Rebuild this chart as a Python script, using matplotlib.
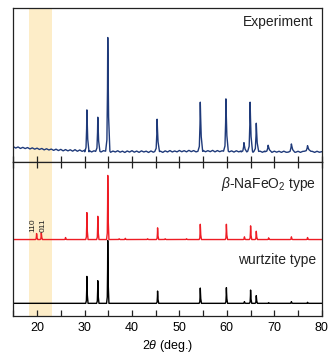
import numpy as np
import matplotlib
matplotlib.use("Agg")
import matplotlib.pyplot as plt
from matplotlib.ticker import MultipleLocator

plt.rcParams['font.family'] = ['Liberation Sans', 'DejaVu Sans']
plt.rcParams['mathtext.fontset'] = 'custom'
plt.rcParams['mathtext.rm'] = 'Liberation Sans'
plt.rcParams['mathtext.it'] = 'Liberation Sans:italic'

# ---- data ----
# experiment: background every 0.5 deg from 15 to 80
exp_bg_x = np.arange(15.0, 80.01, 0.5)
exp_bg_y = [15.8, 14.4, 15.5, 14.0, 15.1, 13.9, 14.9, 13.5, 14.6, 13.3,
            14.3, 13.0, 14.0, 12.6, 13.7, 12.5, 13.4, 12.1, 13.3, 11.9,
            13.1, 11.6, 12.9, 11.6, 12.7, 11.3, 12.8, 11.2, 12.5, 11.1,
            12.2, 10.7, 11.9, 10.5, 11.7, 10.3, 11.6, 10.5, 11.8, 10.4,
            11.5, 10.2, 11.4, 10.5, 11.7, 10.3, 11.3, 10.0, 11.5, 10.4,
            11.8, 10.3, 11.4, 10.1, 11.6, 10.5, 11.3, 10.0, 11.5, 10.3,
            11.7, 10.4, 11.3, 10.1, 11.6, 10.5, 11.9, 10.5, 11.5, 10.6,
            12.0, 10.7, 11.8, 10.6, 12.1, 10.8, 11.9, 10.6, 12.2, 10.9,
            12.0, 10.7, 11.8, 10.8, 12.1, 10.6, 11.9, 10.8, 11.7, 10.5,
            11.8, 10.6, 11.6, 10.4, 11.7, 10.6, 11.5, 10.3, 11.6, 10.5,
            11.4, 10.2, 11.5, 10.4, 11.3, 10.2, 11.4, 10.3, 11.3, 10.1,
            11.3, 10.3, 11.2, 10.1, 11.3, 10.2, 11.2, 10.1, 11.1, 10.2,
            11.2, 10.1, 11.1, 10.0, 11.2, 10.2, 11.1, 10.1, 11.2, 10.2,
            10.8]
exp_pos = [30.5, 32.8, 34.9, 45.3, 54.4, 59.8, 63.6, 64.9, 66.2, 68.7, 73.6, 77.0]
exp_top = [52.5, 45.2, 124.8, 43.2, 60.2, 63.5, 19.8, 60.2, 39.2, 17.2, 18.5, 16.8]

# beta-NaFeO2 type (calculated), heights above baseline
calc_pos = [19.9, 20.9, 26.0, 30.5, 32.8, 34.9, 37.3, 38.6, 43.3, 45.4, 47.0,
            51.5, 54.4, 59.9, 63.7, 65.0, 66.2, 68.8, 73.6, 77.0]
beta_h = [6.0, 6.7, 2.0, 27.0, 23.3, 64.3, 0.8, 1.2, 0.8, 11.7, 0.8,
          0.8, 15.3, 15.3, 2.7, 13.7, 8.3, 1.7, 2.7, 2.0]
beta_base = 76.7

# wurtzite type (calculated)
wurtz_pos = [30.5, 32.8, 34.9, 45.4, 54.4, 59.9, 63.7, 65.0, 66.2, 68.8, 73.6, 77.0]
wurtz_h = [27.0, 22.7, 63.0, 12.3, 15.3, 15.7, 1.7, 13.3, 7.7, 0.7, 1.7, 1.0]
wurtz_base = 12.7

hkl_labels = ['110', '011']
hkl_pos = [19.2, 21.2]

# ---- styling ----
exp_w = [0.45, 0.45, 0.45, 0.5, 0.5, 0.5, 0.6, 0.5, 0.5, 0.7, 0.7, 0.7]
calc_w = 0.25


def profile(bx, by, pos, tops, widths):
    bx = np.asarray(bx, float)
    by = np.asarray(by, float)
    keep = np.ones(len(bx), bool)
    for p, w in zip(pos, widths):
        keep &= np.abs(bx - p) > w
    xs = list(bx[keep])
    ys = list(by[keep])
    for p, t, w in zip(pos, tops, widths):
        b = np.interp(p, bx, by)
        h = t - b
        xs += [p - w, p - 0.4 * w, p - 0.12 * w, p, p + 0.15 * w, p + 0.4 * w, p + w]
        ys += [b, b + 0.1 * h, b + 0.55 * h, t, b + 0.7 * h, b + 0.3 * h, b]
    order = np.argsort(xs)
    return np.array(xs)[order], np.array(ys)[order]


fig = plt.figure(figsize=(3.29, 3.55), dpi=100)
ax1 = fig.add_axes([0.0405, 0.5423, 0.9375, 0.4344])
ax2 = fig.add_axes([0.0405, 0.1099, 0.9375, 0.4324])

for ax in (ax1, ax2):
    ax.set_xlim(15, 80)
    ax.set_ylim(0, 154)
    ax.axvspan(18.4, 23.1, color='#fdedc8', lw=0, zorder=0)
    ax.set_yticks([])
    ax.xaxis.set_major_locator(MultipleLocator(10))
    ax.xaxis.set_minor_locator(MultipleLocator(5))
    ax.tick_params(axis='x', which='both', direction='in', length=4, width=0.9,
                   labelsize=9, pad=4, color='#222222')
    for s in ax.spines.values():
        s.set_linewidth(0.9)
        s.set_color('#222222')

ax1.tick_params(axis='x', which='both', labelbottom=False)
ax2.tick_params(axis='x', which='both', top=True)

# experiment
x, y = profile(exp_bg_x, exp_bg_y, exp_pos, exp_top, exp_w)
ax1.plot(x, y, color='#1f3a7a', lw=1.0)
ax1.text(0.972, 0.91, 'Experiment', transform=ax1.transAxes, ha='right',
         va='center', fontsize=10, color='#222222')

# calculated patterns
x, y = profile([15, 80], [beta_base, beta_base], calc_pos,
               [beta_base + h for h in beta_h], [calc_w] * len(calc_pos))
ax2.plot(x, y, color='#ee1c24', lw=1.0)
x, y = profile([15, 80], [wurtz_base, wurtz_base], wurtz_pos,
               [wurtz_base + h for h in wurtz_h], [calc_w] * len(wurtz_pos))
ax2.plot(x, y, color='black', lw=1.0)

ax2.text(0.982, 0.86, r'$\beta$-NaFeO$_2$ type', transform=ax2.transAxes,
         ha='right', va='center', fontsize=10, color='#222222')
ax2.text(0.982, 0.365, 'wurtzite type', transform=ax2.transAxes,
         ha='right', va='center', fontsize=10, color='#222222')
for lab, p in zip(hkl_labels, hkl_pos):
    ax2.text(p, 84.5, lab, rotation=90, ha='center', va='bottom', fontsize=6,
             color='#222222')

ax2.set_xlabel(r'2$\theta$ (deg.)', fontsize=9, labelpad=3)

fig.savefig('out.png', dpi=100)
